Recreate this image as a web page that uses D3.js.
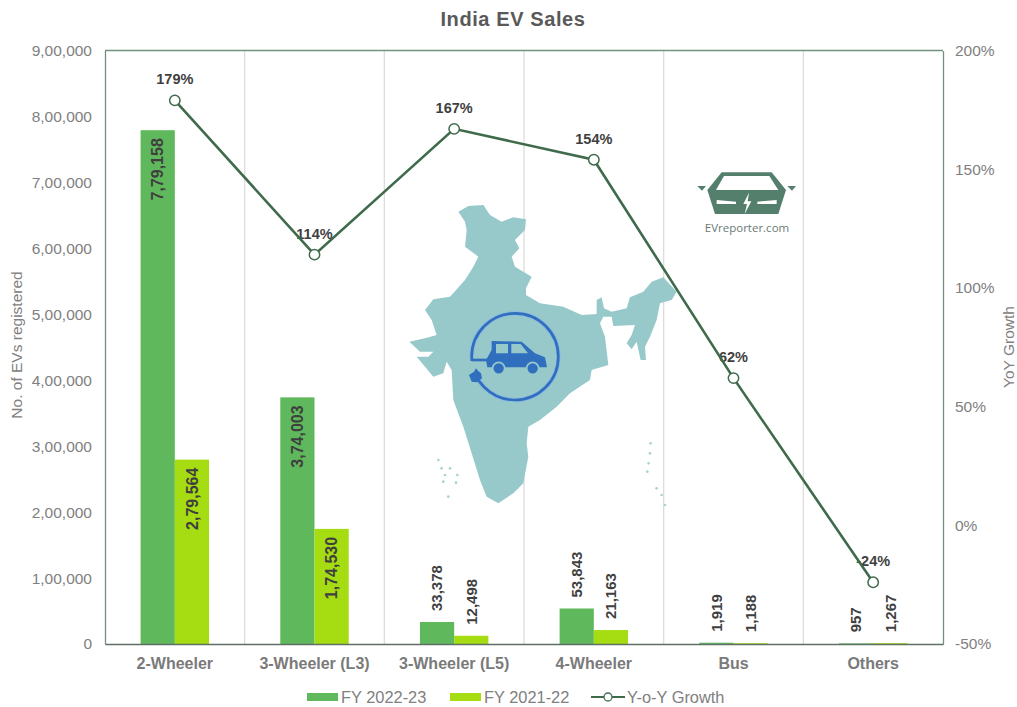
<!DOCTYPE html>
<html>
<head>
<meta charset="utf-8">
<script src="https://cdn.jsdelivr.net/npm/d3@7"></script>
<style>
  body { margin: 0; background: #fff; }
  svg { display: block; font-family: "Liberation Sans", Arial, sans-serif; }
  .tick text { fill: #808080; font-size: 15.5px; }
  .x-axis .tick text { font-weight: bold; font-size: 16px; fill: #7a7a7a; }
  .value-label { font-size: 15px; font-weight: bold; fill: #3f3f3f; }
  .value-label.inside { font-size: 16px; }
  .percent-label { font-size: 14.5px; font-weight: bold; fill: #3f3f3f; }
  .legend-label { font-size: 16.4px; fill: #808080; }
  .axis-title { font-size: 15.5px; fill: #808080; }
</style>
</head>
<body>
<div id="chart"></div>
<script>
const categories = ["2-Wheeler", "3-Wheeler (L3)", "3-Wheeler (L5)", "4-Wheeler", "Bus", "Others"]
const fy2223 = [779158, 374003, 33378, 53843, 1919, 957]
const fy2122 = [279564, 174530, 12498, 21163, 1188, 1267]
const growth = [179, 114, 167, 154, 62, -24]
const seriesNames = ["FY 2022-23", "FY 2021-22"]
const growthName = "Y-o-Y Growth"
const salesTicks = [0, 100000, 200000, 300000, 400000, 500000, 600000, 700000, 800000, 900000]
const growthTicks = [-50, 0, 50, 100, 150, 200]

// decorative artwork (crop pixels, scaled down by 3)
const indiaOutline = "M175,155 L205,138 L250,135 L270,165 L305,185 L340,172 L378,178 L375,210 L345,240 L358,265 L335,290 L345,320 L395,350 L378,385 L378,405 L420,430 L490,440 L545,465 L590,462 L590,420 L605,412 L612,445 L635,455 L680,445 L690,412 L730,395 L755,365 L790,352 L830,395 L815,420 L780,430 L770,480 L750,530 L735,560 L738,600 L722,600 L710,545 L695,568 L680,550 L695,525 L705,495 L640,498 L635,470 L610,470 L600,490 L615,530 L625,615 L575,630 L570,660 L510,700 L470,740 L420,780 L385,800 L380,850 L385,890 L370,970 L340,1000 L295,1030 L260,1010 L240,960 L215,880 L190,800 L160,720 L155,630 L140,605 L130,640 L100,650 L50,590 L85,590 L100,575 L60,575 L28,545 L75,535 L110,525 L95,480 L75,450 L100,418 L150,410 L195,360 L220,320 L235,290 L195,260 L200,210 L195,185 Z"
const carBody = "M275,543 L365,545 L405,580 L435,592 L441,622 L262,622 L258,600 L275,570 Z"
const plugBody = "M207,645 L222,635 L228,625 L234,632 L243,640 L246,655 L232,667 L215,665 Z"
const logoBody = "M125,97 L275,97 L318,150 L295,222 L105,222 L82,150 Z"
const logoGlass = "M132,108 L268,108 L295,150 L108,150 Z"
const logoBolt = "M207,158 L190,192 L201,192 L194,222 L214,184 L203,184 Z"
const islandSpots = [[115,900],[125,925],[135,945],[130,965],[150,925],[172,945],[168,968],[145,1010],[752,850],[750,880],[746,910],[742,935],[770,985],[785,1005],[795,1035]]

const width = 1017
const height = 707
const margin = { top: 50.5, right: 74, bottom: 63, left: 105 }
const boundedWidth = width - margin.left - margin.right
const boundedHeight = height - margin.top - margin.bottom

const indianFormat = value => {
  const digits = String(value)
  if (digits.length <= 3) return digits
  const head = digits.slice(0, -3)
  const groups = head.replace(/\B(?=(\d{2})+(?!\d))/g, ",")
  return `${groups},${digits.slice(-3)}`
}

const svg = d3.select("#chart").append("svg")
    .attr("width", width)
    .attr("height", height)

svg.append("text")
    .attr("x", 513)
    .attr("y", 26)
    .attr("text-anchor", "middle")
    .style("font-size", "20px")
    .style("letter-spacing", "0.6px")
    .style("font-weight", "bold")
    .style("fill", "#595959")
    .text("India EV Sales")

const bounds = svg.append("g")
    .attr("transform", `translate(${margin.left}, ${margin.top})`)

// Scales
const xScale = d3.scaleBand()
    .domain(categories)
    .range([0, boundedWidth])
    .paddingInner(0.51)
    .paddingOuter(0.255)
const xSeries = d3.scaleBand()
    .domain(seriesNames)
    .range([0, xScale.bandwidth()])
const yScale = d3.scaleLinear()
    .domain([0, 900000])
    .range([boundedHeight, 0])
const growthScale = d3.scaleLinear()
    .domain([-50, 200])
    .range([boundedHeight, 0])
const step = xScale.step()
const colors = d3.scaleOrdinal().domain(seriesNames).range(["#5fb95c", "#a5dc12"])
const xCenter = d => xScale(d) + xScale.bandwidth() / 2

// Category separators
bounds.append("g")
  .selectAll("line")
  .data(categories.slice(1))
  .join("line")
    .attr("x1", d => xCenter(d) - step / 2)
    .attr("x2", d => xCenter(d) - step / 2)
    .attr("y1", 0)
    .attr("y2", boundedHeight)
    .attr("stroke", "#dcdcdc")
    .attr("stroke-width", 1.3)

// Map and logo sit behind the marks
const art = svg.append("g")
const map = art.append("g").attr("transform", "translate(400, 160) scale(0.3333)")
map.append("path").attr("d", indiaOutline).attr("fill", "#97c9cb")
map.selectAll(".island").data(islandSpots).join("circle")
    .attr("class", "island")
    .attr("cx", d => d[0]).attr("cy", d => d[1]).attr("r", 4)
    .attr("fill", "#a9d2d3")
map.append("circle").attr("cx", 345).attr("cy", 590).attr("r", 130)
    .attr("fill", "none").attr("stroke", "#8fbbe0").attr("stroke-width", 14)
map.append("circle").attr("cx", 345).attr("cy", 590).attr("r", 130)
    .attr("fill", "none").attr("stroke", "#2f6fbd").attr("stroke-width", 8)
map.append("rect").attr("x", 205).attr("y", 603).attr("width", 30).attr("height", 45).attr("fill", "#97c9cb")
map.append("path").attr("d", "M215,600 L262,600").attr("stroke", "#2f6fbd").attr("stroke-width", 8)
map.append("path").attr("d", carBody).attr("fill", "#2f6fbd")
map.append("rect").attr("x", 288).attr("y", 552).attr("width", 36).attr("height", 28).attr("fill", "#97c9cb")
map.append("path").attr("d", "M334,552 L362,552 L384,580 L334,580 Z").attr("fill", "#97c9cb")
map.selectAll(".wheel").data([296, 398]).join("circle")
    .attr("class", "wheel")
    .attr("cx", d => d).attr("cy", 625).attr("r", 18)
    .attr("fill", "#2f6fbd").attr("stroke", "#97c9cb").attr("stroke-width", 5)
map.append("path").attr("d", plugBody).attr("fill", "#2f6fbd")

const logo = art.append("g").attr("transform", "translate(680, 140) scale(0.3333)")
logo.append("path").attr("d", logoBody).attr("fill", "#557f6d")
logo.append("path").attr("d", logoGlass).attr("fill", "#fff")
logo.append("path").attr("d", "M52,138 L78,138 L66,152 Z").attr("fill", "#557f6d")
logo.append("path").attr("d", "M322,138 L348,138 L336,152 Z").attr("fill", "#557f6d")
logo.append("path").attr("d", "M110,180 L168,185 L168,192 L110,192 Z").attr("fill", "#fff")
logo.append("path").attr("d", "M232,185 L290,180 L290,192 L232,192 Z").attr("fill", "#fff")
logo.append("path").attr("d", logoBolt).attr("fill", "#fff")
svg.append("text")
    .attr("x", 747)
    .attr("y", 232)
    .attr("text-anchor", "middle")
    .style("font-family", "'Open Sans', sans-serif")
    .style("font-size", "11.5px")
    .style("fill", "#6a7a74")
    .text("EVreporter.com")

// Bars and their labels
const rows = categories.flatMap((category, i) => [
  { category, series: seriesNames[0], value: fy2223[i] },
  { category, series: seriesNames[1], value: fy2122[i] },
])
const barX = d => xScale(d.category) + xSeries(d.series)
const isInside = d => d.value > 100000

const plot = svg.append("g")
    .attr("transform", `translate(${margin.left}, ${margin.top})`)

plot.append("g")
  .selectAll("rect")
  .data(rows)
  .join("rect")
    .attr("x", barX)
    .attr("y", d => yScale(d.value))
    .attr("width", xSeries.bandwidth())
    .attr("height", d => boundedHeight - yScale(d.value))
    .attr("fill", d => colors(d.series))

// Big bars carry the label inside the top end, small ones above
plot.append("g")
  .selectAll("text")
  .data(rows)
  .join("text")
    .attr("class", d => isInside(d) ? "value-label inside" : "value-label")
    .attr("transform", d => {
      const labelY = yScale(d.value) + (isInside(d) ? 8 : -11)
      return `translate(${barX(d) + xSeries.bandwidth() / 2}, ${labelY}) rotate(-90)`
    })
    .attr("text-anchor", d => isInside(d) ? "end" : "start")
    .attr("dy", "0.35em")
    .text(d => indianFormat(d.value))

// Axes
const yAxis = d3.axisLeft(yScale).tickValues(salesTicks).tickFormat(indianFormat).tickSize(0).tickPadding(13)
const growthAxis = d3.axisRight(growthScale).tickValues(growthTicks).tickFormat(d => `${d}%`).tickSize(0).tickPadding(12)
const xAxis = d3.axisBottom(xScale).tickSize(0).tickPadding(14)
const frameColor = "#71927f"

const yAxisGroup = plot.append("g").call(yAxis)
const growthAxisGroup = plot.append("g").attr("transform", `translate(${boundedWidth}, 0)`).call(growthAxis)
const xAxisGroup = plot.append("g").attr("class", "x-axis").attr("transform", `translate(0, ${boundedHeight})`).call(xAxis)
yAxisGroup.select(".domain").attr("stroke", frameColor).attr("stroke-width", 1.3)
growthAxisGroup.select(".domain").attr("stroke", frameColor).attr("stroke-width", 1.3)
xAxisGroup.select(".domain").attr("stroke", "#5f6f66").attr("stroke-width", 1.3)
plot.append("line")
    .attr("x2", boundedWidth)
    .attr("stroke", frameColor)
    .attr("stroke-width", 1.3)

svg.append("text")
    .attr("class", "axis-title")
    .attr("transform", "translate(22, 345) rotate(-90)")
    .attr("text-anchor", "middle")
    .text("No. of EVs registered")
svg.append("text")
    .attr("class", "axis-title")
    .attr("transform", "translate(1014, 347) rotate(-90)")
    .attr("text-anchor", "middle")
    .text("YoY Growth")

// Growth line
const growthRows = categories.map((category, i) => ({ category, value: growth[i] }))

plot.append("g")
  .selectAll("text")
  .data(growthRows)
  .join("text")
    .attr("class", "percent-label")
    .attr("x", d => xCenter(d.category))
    .attr("y", d => growthScale(d.value) - 16)
    .attr("text-anchor", "middle")
    .text(d => `${d.value}%`)

const lineGenerator = d3.line()
    .x(d => xCenter(d.category))
    .y(d => growthScale(d.value))

plot.append("path")
    .attr("d", lineGenerator(growthRows))
    .attr("fill", "none")
    .attr("stroke", "#3f6b4c")
    .attr("stroke-width", 2.6)

plot.append("g")
  .selectAll("circle")
  .data(growthRows)
  .join("circle")
    .attr("cx", d => xCenter(d.category))
    .attr("cy", d => growthScale(d.value))
    .attr("r", 5.2)
    .attr("fill", "#fff")
    .attr("stroke", "#3f6b4c")
    .attr("stroke-width", 1.5)

// Legend
const legendY = 697
const legend = svg.append("g")
seriesNames.forEach((name, i) => {
  const left = [307, 450][i]
  legend.append("rect")
      .attr("x", left).attr("y", legendY - 4)
      .attr("width", 31).attr("height", 8)
      .attr("fill", colors(name))
  legend.append("text")
      .attr("class", "legend-label")
      .attr("x", left + 34).attr("y", legendY + 6)
      .text(name)
})
legend.append("line")
    .attr("x1", 591).attr("x2", 625)
    .attr("y1", legendY).attr("y2", legendY)
    .attr("stroke", "#3f6b4c").attr("stroke-width", 2)
legend.append("circle")
    .attr("cx", 608).attr("cy", legendY).attr("r", 4)
    .attr("fill", "#fff").attr("stroke", "#3f6b4c").attr("stroke-width", 1.3)
legend.append("text")
    .attr("class", "legend-label")
    .attr("x", 627).attr("y", legendY + 6)
    .text(growthName)
</script>
</body>
</html>
